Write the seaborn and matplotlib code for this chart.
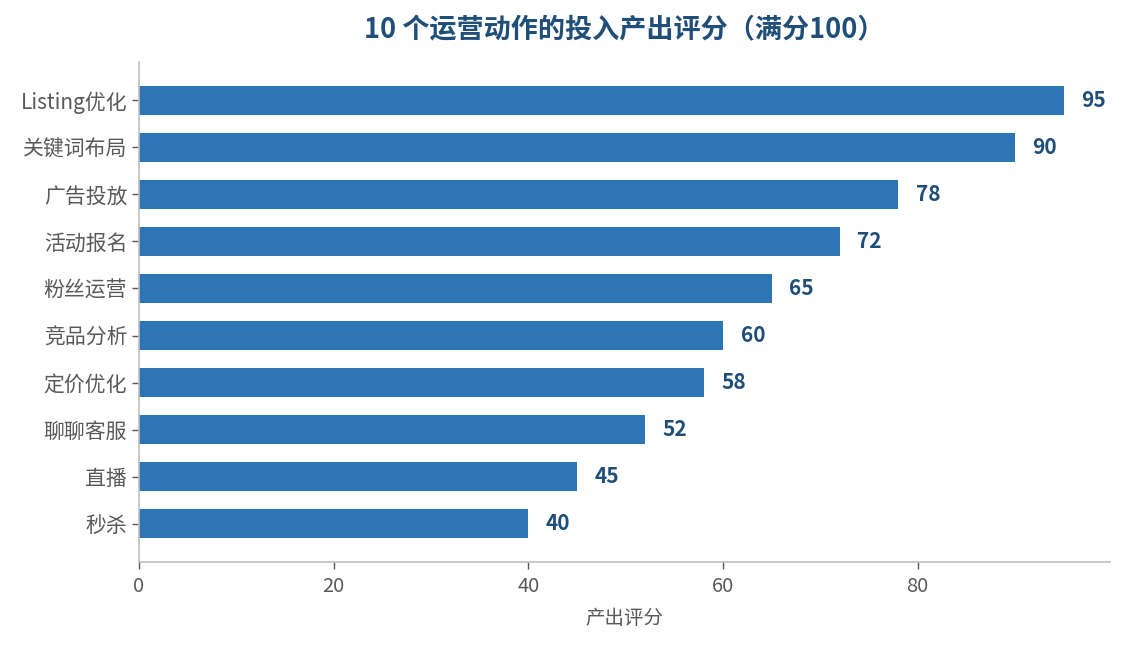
import matplotlib
matplotlib.use("Agg")
from matplotlib import pyplot as plt
import pandas as pd
import seaborn as sns

# data, top to bottom as drawn
actions = ['Listing优化', '关键词布局', '广告投放', '活动报名', '粉丝运营',
           '竞品分析', '定价优化', '聊聊客服', '直播', '秒杀']
scores = [95, 90, 78, 72, 65, 60, 58, 52, 45, 40]
x_ticks = [0, 20, 40, 60, 80]

BAR_COLOR = '#2e75b6'
DARK_BLUE = '#1f4e79'
GRAY = '#595959'
SPINE = '#bfbfbf'

sns.set_theme(style='white')
plt.rcParams['font.family'] = ['Noto Sans CJK SC', 'DejaVu Sans']

df = pd.DataFrame({'action': actions, 'score': scores})

fig = plt.figure(figsize=(11.24, 6.45), dpi=100)
ax = fig.add_axes([0.1237, 0.1287, 0.8638, 0.7752])

sns.barplot(data=df, x='score', y='action', orient='h', color=BAR_COLOR,
            width=0.62, saturation=1, linewidth=0, ax=ax)

# value labels at the end of each bar
for i, v in enumerate(scores):
    ax.text(v + 1.8, i, str(v), ha='left', va='center',
            fontsize=15, fontweight='bold', color=DARK_BLUE)

ax.set_xlim(0, max(scores) * 1.05)
ax.set_ylim(len(actions) - 1 + 0.81, -0.81)
ax.set_xticks(x_ticks)

ax.set_title('10 个运营动作的投入产出评分（满分100）', fontsize=19.5,
             fontweight='bold', color=DARK_BLUE, pad=17)
ax.set_xlabel('产出评分', fontsize=14, color=GRAY, labelpad=8)
ax.set_ylabel('')

for side in ['top', 'right']:
    ax.spines[side].set_visible(False)
for side in ['left', 'bottom']:
    ax.spines[side].set_color(SPINE)
    ax.spines[side].set_linewidth(1.2)

ax.tick_params(axis='both', colors=GRAY, labelsize=14.5, length=5,
               width=1, direction='out', left=True, bottom=True)
ax.tick_params(axis='y', labelsize=15)
ax.tick_params(axis='x', pad=5)

fig.savefig('out.png', dpi=100)
